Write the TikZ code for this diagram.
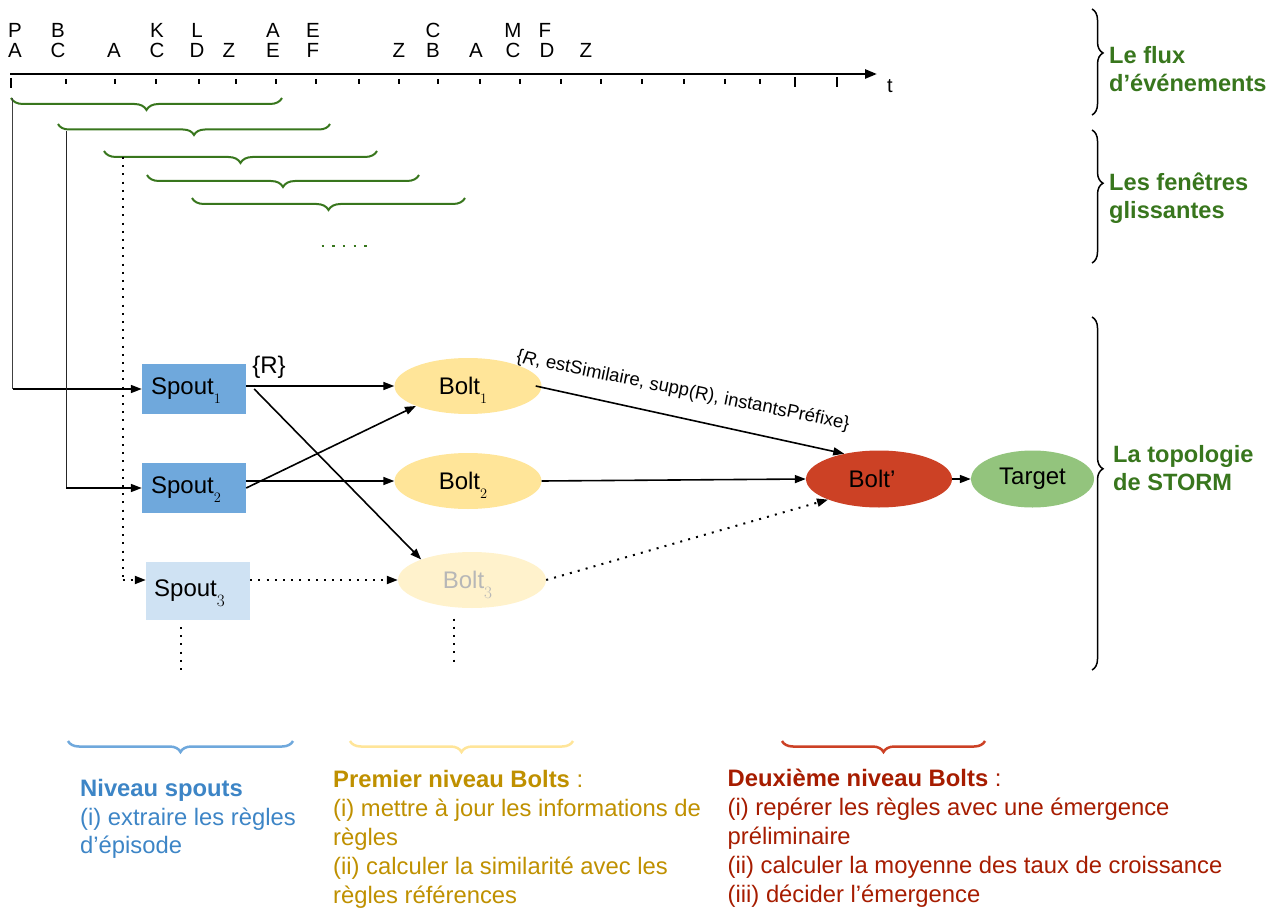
\documentclass[tikz,border=0pt]{standalone}
\usepackage[no-math]{fontspec}
\setmainfont{Liberation Sans}
\usetikzlibrary{arrows.meta,decorations.pathreplacing,shapes.geometric}
\definecolor{spoutblue}{HTML}{6FA8DC}
\definecolor{spoutlight}{HTML}{CFE2F3}
\definecolor{boltyellow}{HTML}{FFE599}
\definecolor{boltlight}{HTML}{FFF2CC}
\definecolor{boltred}{HTML}{CC4125}
\definecolor{targetgreen}{HTML}{93C47D}
\definecolor{darkgreen}{HTML}{38761D}
\definecolor{txtblue}{HTML}{3D85C6}
\definecolor{txtyellow}{HTML}{BF9000}
\definecolor{txtred}{HTML}{A61C00}
\definecolor{greytext}{HTML}{B7B7B7}
\newcommand{\sbs}[1]{\raisebox{-9pt}[0pt][0pt]{\fontsize{14}{14}\selectfont$#1$}}
\newcommand{\sbb}[1]{\raisebox{-10pt}[0pt][0pt]{\fontsize{17}{17}\selectfont$#1$}}
\begin{document}
\begin{tikzpicture}[x=1pt,y=-1pt,
  ev/.style={font=\fontsize{20.5}{24}\selectfont, anchor=base, inner sep=0},
  tickmark/.style={line width=2pt},
  win/.style={darkgreen, line width=2pt, decorate, decoration={brace,mirror,amplitude=12pt}},
  conn/.style={line width=1.6pt, -{Triangle[length=11pt,width=8pt]}},
  dotline/.style={line width=2pt, dash pattern=on 2pt off 6.2pt},
  spoutbox/.style={rectangle, fill=spoutblue, minimum width=104pt, minimum height=50pt, inner sep=0, font=\fontsize{24}{28}\selectfont},
  boltell/.style={ellipse, fill=boltyellow, minimum width=147pt, minimum height=56pt, inner sep=0, font=\fontsize{24}{28}\selectfont},
  bbrace/.style={line width=2.5pt, decorate, decoration={brace,mirror,amplitude=11pt}},
  sidelabel/.style={font=\fontsize{23.6}{28}\selectfont\bfseries, text=darkgreen, anchor=base west, inner sep=0},
  bottomtxt/.style={font=\fontsize{23.8}{28}\selectfont, anchor=base west, inner sep=0}
]
\useasboundingbox (0,0) rectangle (1279,909);

% ---- timeline ----
\coordinate (axs) at (10,74);
\coordinate (axe) at (877,74);
\draw[line width=2.5pt, -{Triangle[length=12pt,width=9pt]}] (axs) -- (axe);
\node[font=\fontsize{20}{24}\selectfont, inner sep=0] (tlab) at (890,86) {t};
\draw[line width=2.5pt] (11,78) -- (11,88);
\foreach \xx in {66,115,156,199,236,276,316,359,399,438,480,520,561,601,642,684,725,760}
  \draw[tickmark] (\xx,79) -- (\xx,84);
\draw[tickmark] (795,77) -- (795,87);
\draw[tickmark] (837,77) -- (837,87);

\foreach \xx/\ll [count=\i] in {15/P,58/B,157/K,197/L,273/A,313/E,433/C,513/M,545/F}
  \node[ev] (up\i) at (\xx,38) {\ll};
\foreach \xx/\ll [count=\i] in {15/A,58/C,114/A,157/C,197/D,229/Z,273/E,313/F,399/Z,433/B,476/A,513/C,547/D,586/Z}
  \node[ev] (lo\i) at (\xx,58) {\ll};

% ---- sliding windows ----
\draw[win] (11,98) -- (282,98);
\draw[win,decoration={brace,mirror,amplitude=11pt}] (58,124) -- (330,124);
\draw[win] (104,151) -- (377,151);
\draw[win] (147,175) -- (419,175);
\draw[win] (192,198) -- (465,198);
\draw[darkgreen, line width=2.5pt, dash pattern=on 2.5pt off 8.2pt] (321.5,246) -- (367,246);

% ---- nodes ----
\node[spoutbox] (Spout1) at (194,389) {Spout\sbs{1}\hspace*{16pt}};
\node[spoutbox] (Spout2) at (194,488) {Spout\sbs{2}\hspace*{16pt}};
\node[spoutbox, fill=spoutlight, minimum height=58pt] (Spout3) at (198,590.5) {Spout\sbb{3}\hspace*{17pt}};
\node[boltell] (Bolt1) at (468,386) {Bolt\sbs{1}\hspace*{10pt}};
\node[boltell] (Bolt2) at (468,481) {Bolt\sbs{2}\hspace*{10pt}};
\node[boltell, fill=boltlight, text=greytext, minimum width=148pt] (Bolt3) at (472,580) {Bolt\sbb{3}\hspace*{9pt}};
\node[boltell, fill=boltred, minimum width=146pt, minimum height=57pt] (Boltp) at (879,479) {Bolt’\hspace*{14pt}};
\node[boltell, fill=targetgreen, minimum width=123pt, minimum height=57pt] (Target) at (1032.5,479) {Target};

% ---- inputs from windows ----
\coordinate (v1top) at (12.5,98);
\coordinate (v1) at (12.5,389);
\coordinate (v2top) at (66,131);
\coordinate (v2) at (66,488);
\coordinate (v3top) at (122.5,157);
\coordinate (v3) at (122.5,580);
\draw[black!75, line width=1pt] (v1top) -- (v1);
\draw[conn] (v1) -- (Spout1.west);
\draw[black!85, line width=1pt] (v2top) -- (v2);
\draw[conn] (v2) -- (Spout2.west);
\draw[dotline] (v3top) -- (v3);
\draw[dotline, -{Triangle[length=11pt,width=8pt]}] (v3) -- (v3 -| Spout3.west);

% ---- connectors ----
\draw[conn] (Spout1.east |- Bolt1.west) -- (Bolt1.west);
\node[font=\fontsize{24}{28}\selectfont, inner sep=0] (Rlab) at (269,367) {\{R\}};
\draw[conn] ([xshift=8pt]Spout1.east) -- (Bolt3.158);
\draw[conn] (Spout2.east) -- (Bolt1.201);
\draw[conn] (Spout2.east |- Bolt2.west) -- (Bolt2.west);
\draw[dotline, -{Triangle[length=11pt,width=8pt]}] (Spout3.east |- Bolt3.west) -- (Bolt3.west);
\draw[conn] ([xshift=-6pt]Bolt1.east) -- (Boltp.144);
\node[font=\fontsize{18.5}{22}\selectfont, inner sep=0, rotate=-11.5] (edgelab) at (683,391)
  {\{\textit{R}, estSimilaire, supp(R), instantsPréfixe\}};
\draw[conn] (Bolt2.east) -- (Boltp.west);
\draw[dotline, -{Triangle[length=11pt,width=8pt]}] (Bolt3.east) -- (Boltp.202);
\draw[conn] (Boltp.east) -- (Target.west);

% ---- continuation dots ----
\draw[dotline] (181,627) -- (181,671);
\draw[dotline] (454,618.5) -- (454,662);

% ---- right braces and labels ----
\draw[line width=1.5pt, decorate, decoration={brace,amplitude=11pt,aspect=0.415}] (1092,9) -- (1092,115);
\draw[line width=1.5pt, decorate, decoration={brace,amplitude=11pt,aspect=0.4}] (1092,130) -- (1092,263);
\draw[line width=1.5pt, decorate, decoration={brace,amplitude=11pt,aspect=0.43}] (1092,317) -- (1092,670);
\node[sidelabel] (lf1) at (1109,64) {Le flux};
\node[sidelabel] (lf2) at (1109,92) {d’événements};
\node[sidelabel] (lw1) at (1109,191) {Les fenêtres};
\node[sidelabel] (lw2) at (1109,219) {glissantes};
\node[sidelabel] (lt1) at (1113,462) {La topologie};
\node[sidelabel] (lt2) at (1113,490) {de STORM};

% ---- bottom braces ----
\draw[bbrace, spoutblue] (68,741) -- (293,741);
\draw[bbrace, boltyellow] (350,741) -- (573,741);
\draw[bbrace, boltred] (782,741) -- (985,741);

% ---- bottom texts ----
\node[bottomtxt, text=txtblue] (b1) at (80,796) {\textbf{Niveau spouts}};
\node[bottomtxt, text=txtblue] (b2) at (80,825) {(i) extraire les règles};
\node[bottomtxt, text=txtblue] (b3) at (80,853) {d’épisode};

\node[bottomtxt, text=txtyellow] (y1) at (333,787) {\textbf{Premier niveau Bolts} :};
\node[bottomtxt, text=txtyellow] (y2) at (333,816) {(i) mettre à jour les informations de};
\node[bottomtxt, text=txtyellow] (y3) at (333,845) {règles};
\node[bottomtxt, text=txtyellow] (y4) at (333,874) {(ii) calculer la similarité avec les};
\node[bottomtxt, text=txtyellow] (y5) at (333,903) {règles références};

\node[bottomtxt, text=txtred] (r1) at (727.5,786) {\textbf{Deuxième niveau Bolts} :};
\node[bottomtxt, text=txtred] (r2) at (727.5,815) {(i) repérer les règles avec une émergence};
\node[bottomtxt, text=txtred] (r3) at (727.5,844) {préliminaire};
\node[bottomtxt, text=txtred] (r4) at (727.5,873) {(ii) calculer la moyenne des taux de croissance};
\node[bottomtxt, text=txtred] (r5) at (727.5,902) {(iii) décider l’émergence};
\end{tikzpicture}
\end{document}
